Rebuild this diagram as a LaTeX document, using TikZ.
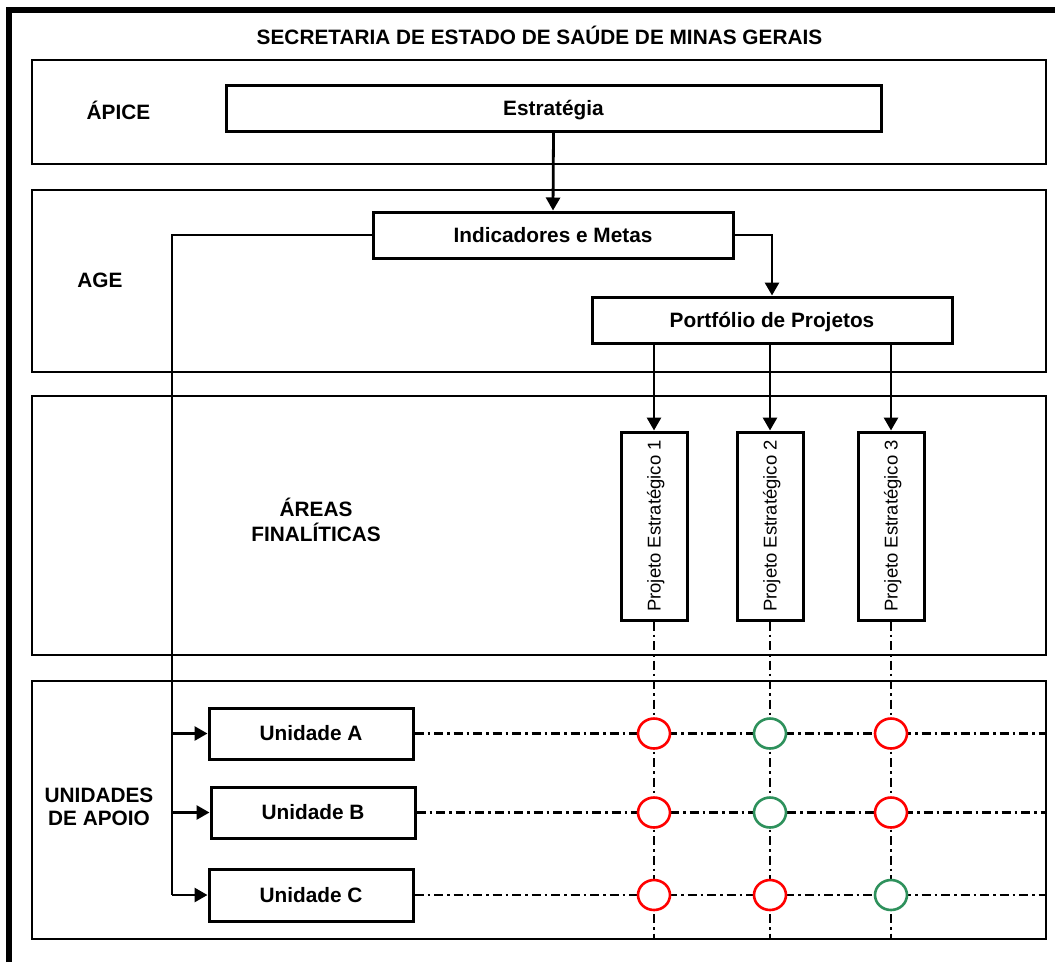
\documentclass[tikz,border=0pt]{standalone}
\usepackage{fontspec}
\setmainfont{Liberation Sans}
\usetikzlibrary{arrows.meta,shapes.geometric}
\definecolor{okgreen}{RGB}{46,145,92}
\definecolor{badred}{RGB}{255,0,0}
\begin{document}
\begin{tikzpicture}[x=1pt,y=-1pt,
  frame/.style={line width=5.5pt},
  band/.style={draw,rectangle,line width=2.8pt,inner sep=0pt},
  box/.style={draw,rectangle,line width=3pt,fill=white,inner sep=0pt,
    font=\fontsize{20.8}{24}\selectfont\bfseries,text height=14.9pt,text depth=0pt},
  projbox/.style={draw,rectangle,line width=3pt,fill=white,inner sep=0pt,rotate=90,
    minimum width=188pt,minimum height=66pt,
    font=\fontsize{18.5}{22}\selectfont,text height=13.2pt,text depth=0pt},
  lbl/.style={inner sep=0pt,font=\fontsize{20.8}{24}\selectfont\bfseries,align=center},
  conn/.style={line width=2.8pt},
  arr/.style={conn,-{Triangle[length=13pt,width=14pt]}},
  dashdot/.style={line width=2.6pt,dash pattern=on 9pt off 4pt on 2.5pt off 4pt},
  status/.style={draw,ellipse,line width=2.6pt,fill=white,minimum width=32pt,minimum height=30pt,inner sep=0pt},
  okc/.style={status,draw=okgreen},
  badc/.style={status,draw=badred}]

\useasboundingbox (0,0) rectangle (1055,962);

% outer frame (open at right and bottom)
\draw[frame] (9,962) -- (9,10) -- (1055,10);

% title
\node[lbl,anchor=base] (title) at (539.5,44) {SECRETARIA DE ESTADO DE SAÚDE DE MINAS GERAIS};

% horizontal bands
\node[band,minimum width=1014pt,minimum height=104pt] (bapice) at (539,112) {};
\node[band,minimum width=1014pt,minimum height=182pt] (bage) at (539,281) {};
\node[band,minimum width=1014pt,minimum height=259pt] (bareas) at (539,525.5) {};
\node[band,minimum width=1014pt,minimum height=258pt] (bunits) at (539,810) {};

% band labels
\node[lbl,anchor=base] (lapice) at (118.5,119) {ÁPICE};
\node[lbl,anchor=base] (lage) at (100,287) {AGE};
\node[lbl,font=\fontsize{20.8}{25}\selectfont\bfseries] (lareas) at (316,519.5) {ÁREAS\\FINALÍTICAS};
\node[lbl,font=\fontsize{20.8}{23}\selectfont\bfseries] (lunits) at (99,807) {UNIDADES\\DE APOIO};

% strategy chain
\node[box,minimum width=655pt,minimum height=46.5pt] (estr) at (553.5,108.25) {Estratégia};
\node[box,minimum width=360pt,minimum height=46pt] (ind) at (553,235) {Indicadores e Metas};
\node[box,minimum width=360pt,minimum height=46pt] (port) at (772,320) {Portfólio de Projetos};

% strategic projects (rotated: east = top, west = bottom)
\node[projbox] (p1) at (654,526) {Projeto Estratégico 1};
\node[projbox] (p2) at (770,526) {Projeto Estratégico 2};
\node[projbox] (p3) at (891,526) {Projeto Estratégico 3};

% support units
\node[box,minimum width=204pt,minimum height=51pt] (ua) at (311,733.5) {Unidade A};
\node[box,minimum width=204pt,minimum height=51pt] (ub) at (313,812.5) {Unidade B};
\node[box,minimum width=204pt,minimum height=52pt] (uc) at (311,895) {Unidade C};

% connectors
\draw[arr] (estr.south) -- (ind.north);
\draw[arr] (ind.east) -| (port.north);
\draw[arr] (port.south -| p1.center) -- (p1.east);
\draw[arr] (port.south -| p2.center) -- (p2.east);
\draw[arr] (port.south -| p3.center) -- (p3.east);

\coordinate (trunk) at (172,895);
\draw[conn] (ind.west) -| (trunk);
\draw[arr] (trunk |- ua.west) -- (ua.west);
\draw[arr] (trunk |- ub.west) -- (ub.west);
\draw[arr] (trunk) -- (uc.west);

% matrix grid
\foreach \u in {ua,ub,uc}
  \draw[dashdot] (\u.east) -- (\u.east -| bunits.east);
\foreach \p in {p1,p2,p3}
  \draw[dashdot] (\p.west) -- (\p.west |- bunits.south);

% status of each unit in each project
\node[badc] (a1) at (p1.center |- ua.east) {};
\node[okc]  (a2) at (p2.center |- ua.east) {};
\node[badc] (a3) at (p3.center |- ua.east) {};
\node[badc] (b1) at (p1.center |- ub.east) {};
\node[okc]  (b2) at (p2.center |- ub.east) {};
\node[badc] (b3) at (p3.center |- ub.east) {};
\node[badc] (c1) at (p1.center |- uc.east) {};
\node[badc] (c2) at (p2.center |- uc.east) {};
\node[okc]  (c3) at (p3.center |- uc.east) {};
\end{tikzpicture}
\end{document}
